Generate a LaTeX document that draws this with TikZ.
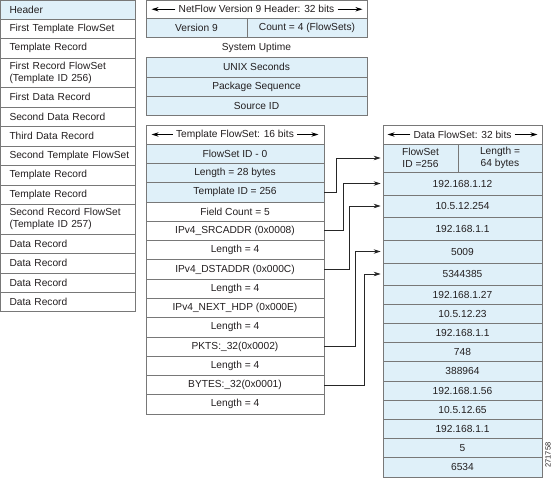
\documentclass[tikz,border=0pt]{standalone}
\usepackage{fontspec}
\setmainfont{Liberation Sans}
\usetikzlibrary{arrows.meta,calc}
\definecolor{cellblue}{RGB}{223,240,249}
\definecolor{cellline}{RGB}{120,120,120}
\definecolor{txt}{RGB}{35,31,32}
\newcommand\mycell[7]{%
 \pgfmathsetmacro\cw{#4-#2}\pgfmathsetmacro\ch{#5-#3}\pgfmathsetmacro\tw{#4-#2-18}%
 \node[cellst,#6,minimum width=\cw pt,minimum height=\ch pt] (#1) at ({(#2+#4)/2},{(#3+#5)/2}) {#7};}
\begin{document}
\begin{tikzpicture}[x=1pt,y=-1pt,
 cellst/.style={draw=cellline,line width=0.7pt,inner sep=0pt,font=\fontsize{10.2}{12}\selectfont,text=txt,align=center},
 bluecell/.style={fill=cellblue},
 whitecell/.style={fill=white},
 leftcell/.style={text width=\tw pt,inner xsep=9pt,align=left},
 hdrtext/.style={font=\fontsize{10.2}{12}\selectfont,text=txt,inner sep=3pt},
 harrow/.style={-{Stealth[length=7pt,width=4.5pt]},line width=0.8pt,draw=black},
 conn/.style={-{Stealth[length=7pt,width=4.5pt]},line width=0.8pt,draw=black!85}]
\useasboundingbox (0,0) rectangle (558,504);
% left column
\mycell{lh}{0.5}{0.5}{135}{19}{bluecell,leftcell}{Header}
\mycell{l1}{0.5}{19}{135}{38}{whitecell,leftcell}{\mbox{First Template FlowSet}}
\mycell{l2}{0.5}{38}{135}{58}{whitecell,leftcell}{Template Record}
\mycell{l3}{0.5}{58}{135}{87}{whitecell,leftcell}{\mbox{First Record FlowSet}\\(Template ID 256)}
\mycell{l4}{0.5}{87}{135}{107}{whitecell,leftcell}{First Data Record}
\mycell{l5}{0.5}{107}{135}{126}{whitecell,leftcell}{Second Data Record}
\mycell{l6}{0.5}{126}{135}{146}{whitecell,leftcell}{Third Data Record}
\mycell{l7}{0.5}{146}{135}{165}{whitecell,leftcell}{\mbox{Second Template FlowSet}}
\mycell{l8}{0.5}{165}{135}{185}{whitecell,leftcell}{Template Record}
\mycell{l9}{0.5}{185}{135}{204}{whitecell,leftcell}{Template Record}
\mycell{l10}{0.5}{204}{135}{234}{whitecell,leftcell}{\mbox{Second Record FlowSet}\\(Template ID 257)}
\mycell{l11}{0.5}{234}{135}{253}{whitecell,leftcell}{Data Record}
\mycell{l12}{0.5}{253}{135}{273}{whitecell,leftcell}{Data Record}
\mycell{l13}{0.5}{273}{135}{292}{whitecell,leftcell}{Data Record}
\mycell{l14}{0.5}{292}{135}{311}{whitecell,leftcell}{Data Record}
% NetFlow header
\mycell{nfhc}{146}{0.5}{367}{18}{whitecell}{}
\node[hdrtext] (nfh) at (nfhc) {NetFlow Version 9 Header: 32 bits};
\draw[harrow] (nfh.west) -- ([xshift=6pt]nfhc.west);
\draw[harrow] (nfh.east) -- ([xshift=-5pt]nfhc.east);
\mycell{ver}{146}{18}{247}{37}{bluecell}{Version 9}
\mycell{cnt}{247}{18}{367}{37}{bluecell}{Count = 4 (FlowSets)}
\node[hdrtext] (sysup) at (256.5,47.5) {System Uptime};
\mycell{unix}{146}{57}{367}{77}{bluecell}{UNIX Seconds}
\mycell{pkgseq}{146}{77}{367}{96}{bluecell}{Package Sequence}
\mycell{srcid}{146}{96}{367}{115}{bluecell}{Source ID}
% Template FlowSet
\mycell{tfhc}{146}{125}{324}{144}{whitecell}{}
\node[hdrtext] (tfh) at (tfhc) {Template FlowSet: 16 bits};
\draw[harrow] (tfh.west) -- ([xshift=6pt]tfhc.west);
\draw[harrow] (tfh.east) -- ([xshift=-6pt]tfhc.east);
\foreach \nm/\tx/\fc [count=\i from 0] in {
 fsid/{FlowSet ID - 0}/cellblue,
 len28/{Length = 28 bytes}/cellblue,
 tid/{Template ID = 256}/cellblue,
 fcnt/{Field Count = 5}/white,
 srca/{IPv4\_SRCADDR (0x0008)}/white,
 lena/{Length = 4}/white,
 dsta/{IPv4\_DSTADDR (0x000C)}/white,
 lenb/{Length = 4}/white,
 nhop/{IPv4\_NEXT\_HDP (0x000E)}/white,
 lenc/{Length = 4}/white,
 pkts/{PKTS:\_32(0x0002)}/white,
 lend/{Length = 4}/white,
 bytes/{BYTES:\_32(0x0001)}/white,
 lene/{Length = 4}/white}{%
 \pgfmathsetmacro\ya{144+\i*19.2857}\pgfmathsetmacro\yb{\ya+19.2857}%
 \mycell{\nm}{146}{\ya}{324}{\yb}{fill=\fc}{\tx}
}
% Data FlowSet
\mycell{dfhc}{383}{125}{542}{144}{whitecell}{}
\node[hdrtext] (dfh) at (dfhc) {Data FlowSet: 32 bits};
\draw[harrow] (dfh.west) -- ([xshift=5pt]dfhc.west);
\draw[harrow] (dfh.east) -- ([xshift=-5pt]dfhc.east);
\mycell{dfsid}{383}{144}{458}{172}{bluecell}{FlowSet\\ID =256}
\mycell{dlen}{458}{144}{542}{172}{bluecell}{Length =\\64 bytes}
\mycell{d1}{383}{172}{542}{195}{bluecell}{192.168.1.12}
\mycell{d2}{383}{195}{542}{217}{bluecell}{10.5.12.254}
\mycell{d3}{383}{217}{542}{240}{bluecell}{192.168.1.1}
\mycell{d4}{383}{240}{542}{263}{bluecell}{5009}
\mycell{d5}{383}{263}{542}{285}{bluecell}{5344385}
\foreach \tx [count=\i from 0] in {192.168.1.27,10.5.12.23,192.168.1.1,748,388964,192.168.1.56,10.5.12.65,192.168.1.1,5,6534}{%
 \pgfmathsetmacro\ya{285+\i*19.2}\pgfmathsetmacro\yb{\ya+19.2}%
 \pgfmathtruncatemacro\k{\i+6}%
 \mycell{d\k}{383}{\ya}{542}{\yb}{bluecell}{\tx}
}
% connectors
\draw[conn] (tid.east) -- ++(12,0) |- ([xshift=-2pt]dfsid.west);
\draw[conn] (srca.east) -- ++(19,0) |- ([xshift=-2pt]d1.west);
\draw[conn] (dsta.east) -- ++(25,0) |- ([xshift=-2pt]d2.west);
\draw[conn] (pkts.east) -- ++(31,0) |- ([xshift=-2pt]d4.west);
\draw[conn] (bytes.east) -- ++(40,0) |- ([xshift=-2pt]d5.west);
% figure id
\node[rotate=90,font=\fontsize{7.5}{8}\selectfont,text=txt,inner sep=0pt] (figid) at (548,455) {271758};
\end{tikzpicture}
\end{document}
